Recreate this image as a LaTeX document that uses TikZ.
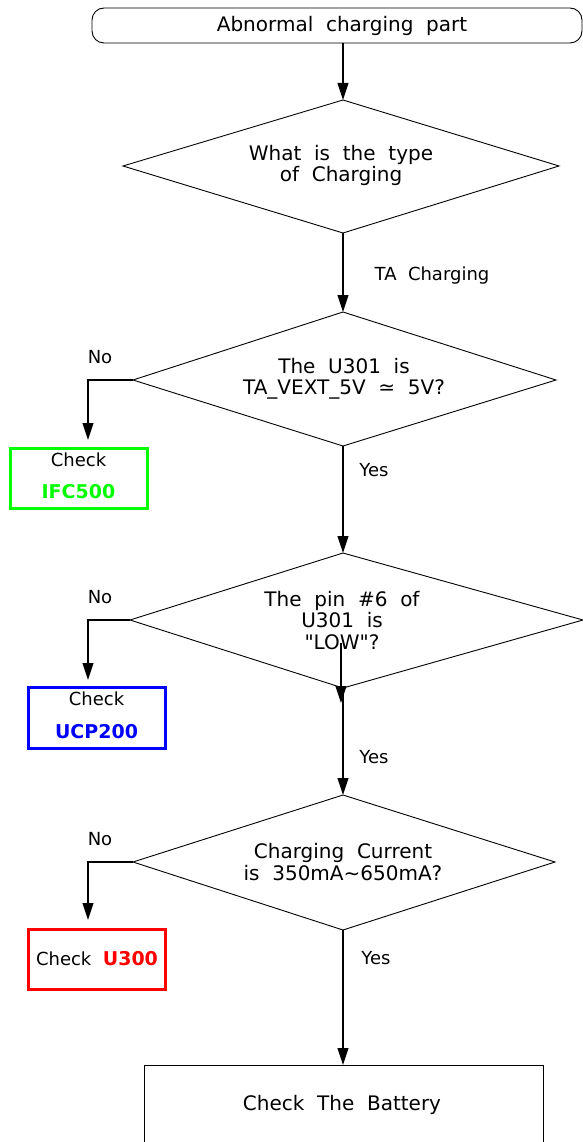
\documentclass[tikz,border=0pt]{standalone}
\usepackage{fontspec}
\setmainfont{DejaVu Sans}[WordSpace={2.0}]
\usetikzlibrary{arrows.meta}
\definecolor{cgreen}{RGB}{0,255,0}
\definecolor{cblue}{RGB}{0,0,255}
\definecolor{cred}{RGB}{255,0,0}
\begin{document}
\begin{tikzpicture}[x=1pt,y=-1pt,
  txt/.style={font=\fontsize{18}{21.5}\selectfont, inner sep=0pt, align=center},
  big/.style={font=\fontsize{20}{21.5}\selectfont, inner sep=0pt, align=center},
  bld/.style={font=\fontsize{19}{21.5}\selectfont\bfseries, inner sep=0pt, align=center},
  arr/.style={-{Triangle[length=17pt,width=11pt]}, line width=1.1pt},
  thin/.style={line width=0.9pt},
  chk/.style={line width=3pt}]
\useasboundingbox (0,0) rectangle (583,1142);

% title
\draw[thin, rounded corners=12pt] (92,8) rectangle (582,43);
\coordinate (ts) at (343,43);
\node[big] (title) at (342,25.5) {Abnormal charging part};

% diamond 1
\coordinate (d1t) at (343,100); \coordinate (d1r) at (559,166);
\coordinate (d1b) at (343,233); \coordinate (d1l) at (123,166);
\draw[thin] (d1t) -- (d1r) -- (d1b) -- (d1l) -- cycle;
\node[big] (q1) at (341,165.5) {What is the type\\of Charging};

% diamond 2
\coordinate (d2t) at (343,312); \coordinate (d2r) at (556,380);
\coordinate (d2b) at (343,446); \coordinate (d2l) at (133,380);
\draw[thin] (d2t) -- (d2r) -- (d2b) -- (d2l) -- cycle;
\node[big] (q2) at (344,379) {The U301 is\\TA\_VEXT\_5V ≃ 5V?};

% diamond 3
\coordinate (d3t) at (343,553); \coordinate (d3r) at (583,620);
\coordinate (d3b) at (343,688); \coordinate (d3l) at (130,620);
\draw[thin] (d3t) -- (d3r) -- (d3b) -- (d3l) -- cycle;
\node[big] (q3) at (342,620.5) {The pin \#6 of\\U301 is\\\textquotedbl LOW\textquotedbl ?};

% diamond 4
\coordinate (d4t) at (343,795); \coordinate (d4r) at (555,862);
\coordinate (d4b) at (343,930); \coordinate (d4l) at (133,862);
\draw[thin] (d4t) -- (d4r) -- (d4b) -- (d4l) -- cycle;
\node[big] (q4) at (343,862) {Charging Current\\is 350mA\textasciitilde650mA?};

% check boxes
\draw[chk, cgreen] (10,448) rectangle (147,508);
\node[txt] (ifc1) at (78.5,460) {Check};
\node[bld, text=cgreen] (ifc) at (78.5,492) {IFC500};

\draw[chk, cblue] (28,687) rectangle (165,748);
\node[txt] (ucp1) at (96.5,699) {Check};
\node[bld, text=cblue] (ucp) at (96.5,732) {UCP200};

\draw[chk, cred] (28,929) rectangle (165,989);
\node[txt] (u300) at (97,959) {Check \textcolor{cred}{\fontsize{19}{21.5}\selectfont\bfseries U300}};

% battery box
\draw[thin] (144,1142) |- (543,1065) -- (543,1142);
\coordinate (bt) at (343,1065);
\node[big] (bat) at (342,1105) {Check The Battery};

% main arrows
\draw[arr] (ts) -- (d1t);
\draw[arr] (d1b) -- (d2t);
\draw[arr] (d2b) -- (d3t);
\draw[arr] (d3b) -- (d4t);
\draw[arr] (d4b) -- (bt);
\coordinate (xa) at (341,643); \coordinate (xb) at (341,703);
\draw[arr] (xa) -- (xb);

% no branches
\coordinate (n2) at (88,440);
\coordinate (n3) at (88,680);
\coordinate (n4) at (88,920);
\draw[arr] (d2l) -| (n2);
\draw[arr] (d3l) -| (n3);
\draw[arr] (d4l) -| (n4);

% labels
\node[txt] (tac) at (432,276) {TA Charging};
\node[txt] (no2) at (100,357) {No};
\node[txt] (no3) at (100,597) {No};
\node[txt] (no4) at (100,839) {No};
\node[txt] (y2) at (374,470) {Yes};
\node[txt] (y3) at (374,757) {Yes};
\node[txt] (y4) at (376,958) {Yes};
\end{tikzpicture}
\end{document}
